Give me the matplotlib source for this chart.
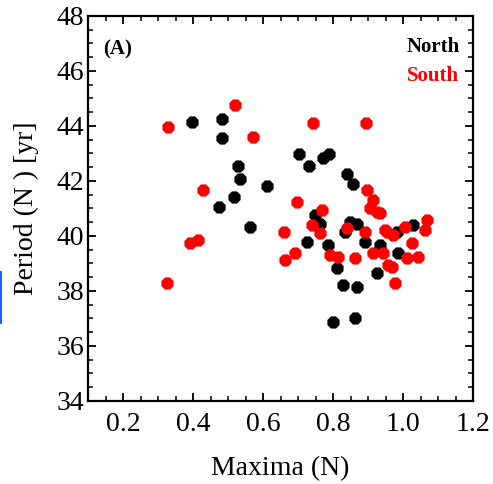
import numpy as np
import matplotlib
matplotlib.use("Agg")
import matplotlib.pyplot as plt
from matplotlib.ticker import MultipleLocator
from matplotlib.lines import Line2D

plt.rcParams['font.family'] = ['Liberation Serif', 'DejaVu Serif']

# North (black)
north_x = [0.397, 0.483, 0.483, 0.529, 0.534, 0.611, 0.517, 0.474, 0.563,
           0.703, 0.731, 0.771, 0.789, 0.840, 0.857, 0.749, 0.763, 0.726,
           0.849, 0.869, 0.786, 0.811, 0.829, 0.869, 0.800, 0.863, 0.834,
           0.891, 0.934, 0.926, 0.986, 0.983, 1.029]
north_y = [44.15, 44.25, 43.55, 42.55, 42.07, 41.82, 41.42, 41.05, 40.33,
           42.98, 42.55, 42.83, 42.98, 42.25, 41.90, 40.76, 40.45, 39.78,
           40.50, 40.45, 39.67, 38.84, 38.22, 38.15, 36.87, 37.00, 40.15,
           39.78, 39.67, 38.65, 39.38, 40.15, 40.40]

# South (red)
south_x = [0.520, 0.329, 0.571, 0.429, 0.391, 0.414, 0.326, 0.743, 0.894,
           0.897, 0.914, 0.926, 0.697, 0.769, 0.740, 0.763, 0.840, 0.949,
           0.660, 0.663, 0.691, 0.791, 0.814, 0.863, 0.891, 0.934, 0.954,
           0.914, 0.957, 0.971, 0.977, 1.006, 1.026, 1.043, 1.011, 1.069,
           1.063, 0.943, 0.969, 0.906]
south_y = [44.76, 43.96, 43.60, 41.67, 39.75, 39.85, 38.30, 44.10, 44.10,
           41.67, 41.30, 40.87, 41.24, 40.95, 40.40, 40.10, 40.30, 40.20,
           40.15, 39.13, 39.38, 39.31, 39.24, 39.20, 40.15, 40.84, 40.15,
           39.38, 38.95, 40.04, 38.29, 40.33, 39.75, 39.24, 39.20, 40.58,
           40.22, 39.38, 38.87, 41.00]

fig = plt.figure(figsize=(4.93, 4.84), dpi=100)
ax = fig.add_axes([0.1785, 0.1715, 0.781, 0.7955])

ax.scatter(north_x, north_y, s=90, marker='8', color='black', linewidths=0, zorder=3)
ax.scatter(south_x, south_y, s=90, marker='8', color='red', linewidths=0, zorder=3)

ax.set_xlim(0.1, 1.2)
ax.set_ylim(34, 48)
ax.xaxis.set_major_locator(MultipleLocator(0.2))
ax.xaxis.set_minor_locator(MultipleLocator(0.05))
ax.yaxis.set_major_locator(MultipleLocator(2))
ax.yaxis.set_minor_locator(MultipleLocator(0.5))
ax.set_xticks([0.2, 0.4, 0.6, 0.8, 1.0, 1.2])
ax.set_xticklabels(['0.2', '0.4', '0.6', '0.8', '1.0', '1.2'])

ax.tick_params(which='both', direction='in', top=True, right=True, labelsize=20)
ax.tick_params(axis='x', pad=8)
ax.tick_params(axis='y', pad=3)
ax.tick_params(which='major', length=6, width=1.3)
ax.tick_params(which='minor', length=3.5, width=1.1)
for sp in ax.spines.values():
    sp.set_linewidth(1.6)

ax.set_xlabel('Maxima (N)', fontsize=20, labelpad=14)
ax.set_ylabel('Period (N ) [yr]', fontsize=20, labelpad=12)

ax.text(0.04, 0.94, '(A)', transform=ax.transAxes, fontsize=15,
        fontweight='bold', ha='left', va='top')
ax.text(0.965, 0.945, 'North', transform=ax.transAxes, fontsize=15,
        fontweight='bold', ha='right', va='top', color='black')
ax.text(0.965, 0.87, 'South', transform=ax.transAxes, fontsize=15,
        fontweight='bold', ha='right', va='top', color='red')

# thin blue bar at the left edge of the picture
fig.add_artist(Line2D([0.002, 0.002], [1 - 272 / 484, 1 - 323 / 484],
                      color='#1f5fff', linewidth=1.5))

fig.savefig('out.png', dpi=100)
